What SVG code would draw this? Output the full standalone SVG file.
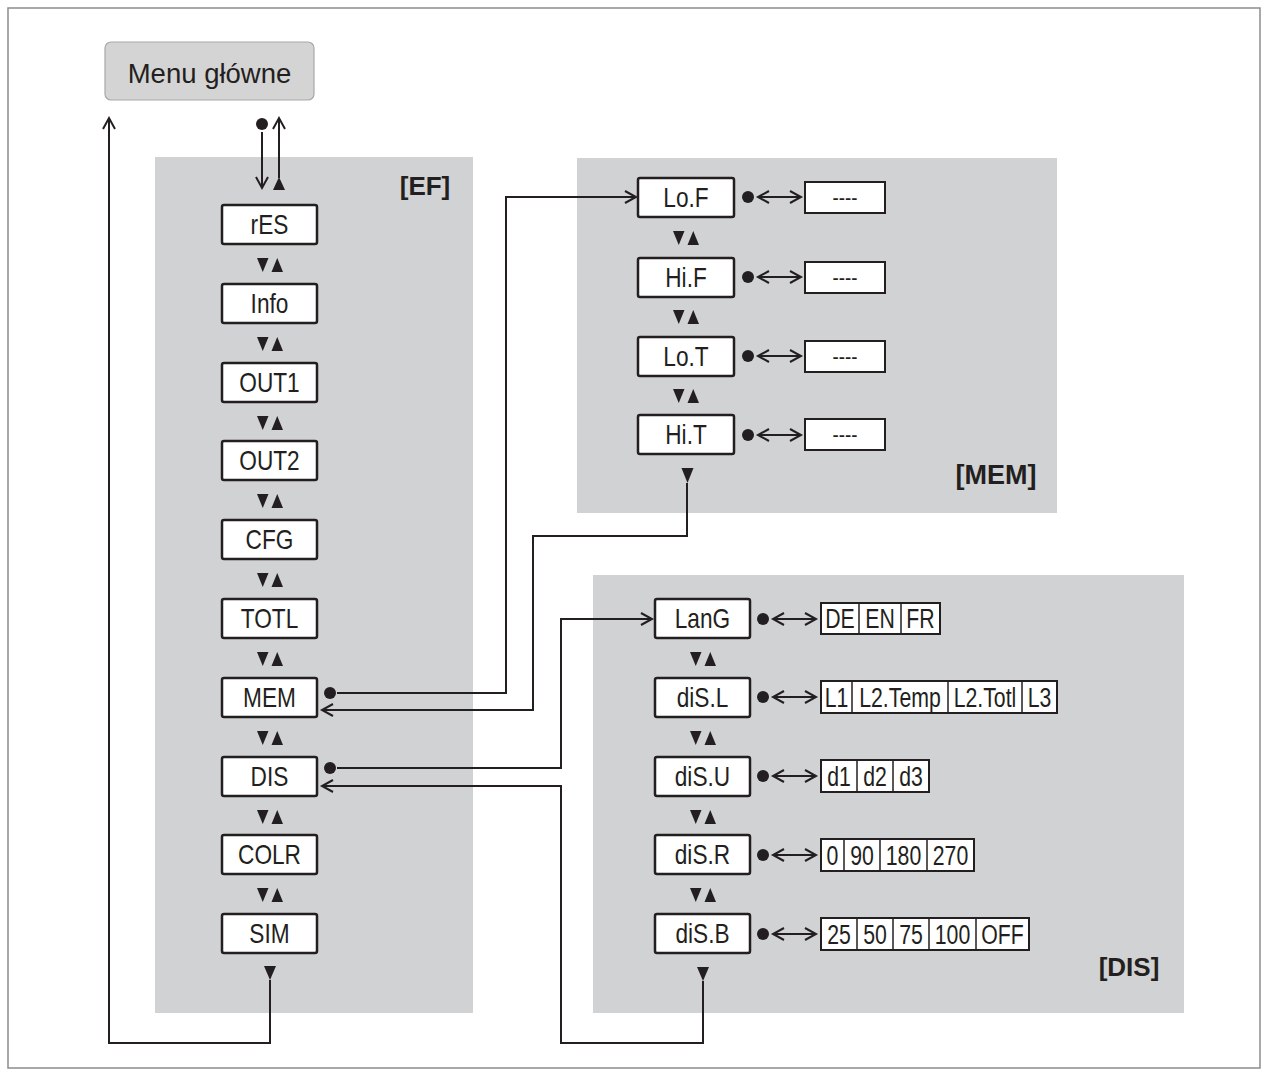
<svg xmlns="http://www.w3.org/2000/svg" width="1268" height="1076" viewBox="0 0 1268 1076">
<style>
.panel{fill:#d1d2d4}
.box{fill:#fff;stroke:#231f20;stroke-width:2.5}
.opt{fill:#fff;stroke:#231f20;stroke-width:2}
.div{stroke:#231f20;stroke-width:1.5}
.lbl,.ot,.dash{font-family:"Liberation Sans",Arial,sans-serif;fill:#231f20;text-anchor:middle;transform-box:fill-box;transform-origin:center}
.lbl{font-size:27px;transform:scaleX(0.84)}
.ot{font-size:28px;transform:scaleX(0.76)}
.dash{font-size:22px;transform:scaleX(0.85)}
.tag{font-family:"Liberation Sans",Arial,sans-serif;font-size:26px;font-weight:bold;fill:#231f20;text-anchor:middle}
.ln{fill:none;stroke:#231f20;stroke-width:2}
.tri{fill:#231f20}
</style>
<defs>
<marker id="oa" markerWidth="16" markerHeight="16" refX="12" refY="7" orient="auto-start-reverse" markerUnits="userSpaceOnUse">
<path d="M1,1 L12,7 L1,13" fill="none" stroke="#231f20" stroke-width="2"/>
</marker>
<g id="ud"><polygon points="-13,0 -1.5,0 -7.25,14"/><polygon points="1.5,14 13,14 7.25,0"/></g>
</defs>
<rect x="8" y="8" width="1252" height="1060" fill="#fff" stroke="#8c8c8c" stroke-width="1.5"/>

<rect class="panel" x="155" y="157" width="318" height="856"/>
<rect class="panel" x="577" y="158" width="480" height="355"/>
<rect class="panel" x="593" y="575" width="591" height="438"/>
<text class="tag" x="425" y="195">[EF]</text>
<text class="tag" x="996" y="484" style="font-size:27px">[MEM]</text>
<text class="tag" x="1129" y="976">[DIS]</text>

<g id="menu">
<rect x="105" y="42" width="209" height="58" rx="6" fill="#d4d4d4" stroke="#a8a8a8" stroke-width="1.2"/>
<text x="209.5" y="83" font-family="Liberation Sans, Arial, sans-serif" font-size="27.5" fill="#231f20" text-anchor="middle">Menu główne</text>
</g>

<g id="ef-nodes">
<g id="n-res"><rect class="box" x="222" y="205" width="95" height="39" rx="2"/><text class="lbl" x="269.5" y="234">rES</text></g>
<g id="n-info"><rect class="box" x="222" y="284" width="95" height="39" rx="2"/><text class="lbl" x="269.5" y="313">Info</text></g>
<g id="n-out1"><rect class="box" x="222" y="363" width="95" height="39" rx="2"/><text class="lbl" x="269.5" y="392">OUT1</text></g>
<g id="n-out2"><rect class="box" x="222" y="441" width="95" height="39" rx="2"/><text class="lbl" x="269.5" y="470">OUT2</text></g>
<g id="n-cfg"><rect class="box" x="222" y="520" width="95" height="39" rx="2"/><text class="lbl" x="269.5" y="549">CFG</text></g>
<g id="n-totl"><rect class="box" x="222" y="599" width="95" height="39" rx="2"/><text class="lbl" x="269.5" y="628">TOTL</text></g>
<g id="n-mem"><rect class="box" x="222" y="678" width="95" height="39" rx="2"/><text class="lbl" x="269.5" y="707">MEM</text></g>
<g id="n-dis"><rect class="box" x="222" y="757" width="95" height="39" rx="2"/><text class="lbl" x="269.5" y="786">DIS</text></g>
<g id="n-colr"><rect class="box" x="222" y="835" width="95" height="39" rx="2"/><text class="lbl" x="269.5" y="864">COLR</text></g>
<g id="n-sim"><rect class="box" x="222" y="914" width="95" height="39" rx="2"/><text class="lbl" x="269.5" y="943">SIM</text></g>
</g>

<g id="mem-nodes">
<g id="n-lof"><rect class="box" x="638" y="178" width="96" height="39" rx="2"/><text class="lbl" x="686" y="207">Lo.F</text>
<rect class="opt" x="805" y="182" width="80" height="31"/><text class="dash" x="845" y="205">----</text></g>
<g id="n-hif"><rect class="box" x="638" y="258" width="96" height="39" rx="2"/><text class="lbl" x="686" y="287">Hi.F</text>
<rect class="opt" x="805" y="262" width="80" height="31"/><text class="dash" x="845" y="285">----</text></g>
<g id="n-lot"><rect class="box" x="638" y="337" width="96" height="39" rx="2"/><text class="lbl" x="686" y="366">Lo.T</text>
<rect class="opt" x="805" y="341" width="80" height="31"/><text class="dash" x="845" y="364">----</text></g>
<g id="n-hit"><rect class="box" x="638" y="415" width="96" height="39" rx="2"/><text class="lbl" x="686" y="444">Hi.T</text>
<rect class="opt" x="805" y="419" width="80" height="31"/><text class="dash" x="845" y="442">----</text></g>
</g>

<g id="dis-nodes">
<g id="n-lang"><rect class="box" x="655" y="599" width="95" height="39" rx="2"/><text class="lbl" x="702.5" y="628">LanG</text>
<rect class="opt" x="821" y="603" width="119" height="31"/>
<line class="div" x1="859" y1="603" x2="859" y2="634"/><line class="div" x1="901" y1="603" x2="901" y2="634"/>
<text class="ot" x="840" y="628.5">DE</text><text class="ot" x="880" y="628.5">EN</text><text class="ot" x="920.5" y="628.5">FR</text></g>
<g id="n-disl"><rect class="box" x="655" y="678" width="95" height="39" rx="2"/><text class="lbl" x="702.5" y="707">diS.L</text>
<rect class="opt" x="821" y="681" width="236" height="32"/>
<line class="div" x1="852" y1="681" x2="852" y2="713"/><line class="div" x1="948" y1="681" x2="948" y2="713"/><line class="div" x1="1022" y1="681" x2="1022" y2="713"/>
<text class="ot" x="836.5" y="707">L1</text><text class="ot" x="900" y="707">L2.Temp</text><text class="ot" x="985" y="707">L2.Totl</text><text class="ot" x="1039.5" y="707">L3</text></g>
<g id="n-disu"><rect class="box" x="655" y="757" width="95" height="39" rx="2"/><text class="lbl" x="702.5" y="786">diS.U</text>
<rect class="opt" x="821" y="760" width="108" height="32"/>
<line class="div" x1="857" y1="760" x2="857" y2="792"/><line class="div" x1="893" y1="760" x2="893" y2="792"/>
<text class="ot" x="839" y="786">d1</text><text class="ot" x="875" y="786">d2</text><text class="ot" x="911" y="786">d3</text></g>
<g id="n-disr"><rect class="box" x="655" y="835" width="95" height="39" rx="2"/><text class="lbl" x="702.5" y="864">diS.R</text>
<rect class="opt" x="821" y="839" width="153" height="32"/>
<line class="div" x1="844" y1="839" x2="844" y2="871"/><line class="div" x1="880" y1="839" x2="880" y2="871"/><line class="div" x1="927" y1="839" x2="927" y2="871"/>
<text class="ot" x="832.5" y="865">0</text><text class="ot" x="862" y="865">90</text><text class="ot" x="903.5" y="865">180</text><text class="ot" x="950.5" y="865">270</text></g>
<g id="n-disb"><rect class="box" x="655" y="914" width="95" height="39" rx="2"/><text class="lbl" x="702.5" y="943">diS.B</text>
<rect class="opt" x="821" y="918" width="208" height="32"/>
<line class="div" x1="857" y1="918" x2="857" y2="950"/><line class="div" x1="893" y1="918" x2="893" y2="950"/><line class="div" x1="929" y1="918" x2="929" y2="950"/><line class="div" x1="976" y1="918" x2="976" y2="950"/>
<text class="ot" x="839" y="944">25</text><text class="ot" x="875" y="944">50</text><text class="ot" x="911" y="944">75</text><text class="ot" x="952.5" y="944">100</text><text class="ot" x="1002.5" y="944">OFF</text></g>
</g>

<g id="connectors">
<g class="tri">
<use href="#ud" x="270" y="258"/><use href="#ud" x="270" y="337"/><use href="#ud" x="270" y="416"/><use href="#ud" x="270" y="494"/><use href="#ud" x="270" y="573"/><use href="#ud" x="270" y="652"/><use href="#ud" x="270" y="731"/><use href="#ud" x="270" y="810"/><use href="#ud" x="270" y="888"/>
<polygon points="264,966 276,966 270,980"/>
<use href="#ud" x="686" y="231"/><use href="#ud" x="686" y="310"/><use href="#ud" x="686" y="389"/>
<polygon points="681.5,468 693.5,468 687.5,483"/>
<use href="#ud" x="703" y="652"/><use href="#ud" x="703" y="731"/><use href="#ud" x="703" y="810"/><use href="#ud" x="703" y="888"/>
<polygon points="697,967 709,967 703,981"/>
<polygon points="273,190 285,190 279,177"/>
<circle cx="262" cy="124" r="6"/>
<circle cx="330" cy="693" r="6"/>
<circle cx="330" cy="768" r="6"/>
<circle cx="748" cy="197" r="6"/><circle cx="748" cy="277" r="6"/><circle cx="748" cy="356" r="6"/><circle cx="748" cy="435" r="6"/>
<circle cx="763" cy="619" r="6"/><circle cx="763" cy="697" r="6"/><circle cx="763" cy="776" r="6"/><circle cx="763" cy="855" r="6"/><circle cx="763" cy="934" r="6"/>
</g>
<path class="ln" d="M262,132 V188" marker-end="url(#oa)"/>
<path class="ln" d="M279,178 V118" marker-end="url(#oa)"/>
<path class="ln" d="M270,980 V1043 H109 V118" marker-end="url(#oa)"/>
<path class="ln" d="M337,693 H506 V197 H636" marker-end="url(#oa)"/>
<path class="ln" d="M687,483 V536 H533 V710 H322" marker-end="url(#oa)"/>
<path class="ln" d="M337,768 H561 V619 H652" marker-end="url(#oa)"/>
<path class="ln" d="M703,981 V1043 H561 V786 H322" marker-end="url(#oa)"/>
<path class="ln" d="M758,197 H801" marker-start="url(#oa)" marker-end="url(#oa)"/>
<path class="ln" d="M758,277 H801" marker-start="url(#oa)" marker-end="url(#oa)"/>
<path class="ln" d="M758,356 H801" marker-start="url(#oa)" marker-end="url(#oa)"/>
<path class="ln" d="M758,435 H801" marker-start="url(#oa)" marker-end="url(#oa)"/>
<path class="ln" d="M773,619 H816" marker-start="url(#oa)" marker-end="url(#oa)"/>
<path class="ln" d="M773,697 H816" marker-start="url(#oa)" marker-end="url(#oa)"/>
<path class="ln" d="M773,776 H816" marker-start="url(#oa)" marker-end="url(#oa)"/>
<path class="ln" d="M773,855 H816" marker-start="url(#oa)" marker-end="url(#oa)"/>
<path class="ln" d="M773,934 H816" marker-start="url(#oa)" marker-end="url(#oa)"/>
</g>
</svg>
